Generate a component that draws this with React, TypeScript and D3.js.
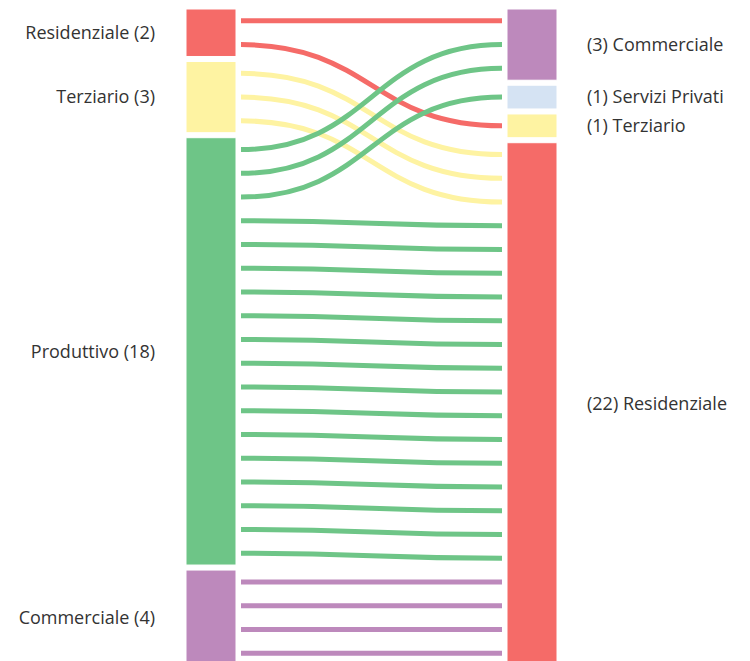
import React, { useEffect, useRef } from 'react';
import * as d3 from 'd3';

// left column (origin) and right column (destination) categories
const sourceNames = ['Residenziale', 'Terziario', 'Produttivo', 'Commerciale'];
const targetNames = ['Commerciale', 'Servizi Privati', 'Terziario', 'Residenziale'];

// flows: one line is drawn for each unit
const flowSource = ['Residenziale', 'Residenziale', 'Terziario', 'Produttivo', 'Produttivo', 'Produttivo', 'Commerciale'];
const flowTarget = ['Commerciale', 'Terziario', 'Residenziale', 'Commerciale', 'Servizi Privati', 'Residenziale', 'Residenziale'];
const flowCount = [1, 1, 3, 2, 1, 15, 4];

const colors: Record<string, string> = {
  Residenziale: '#f56b68',
  Terziario: '#fef3a2',
  Produttivo: '#6ec587',
  Commerciale: '#bd89bc',
  'Servizi Privati': '#d5e3f3',
};

type NodeBox = { name: string; count: number; y0: number; y1: number; next: number };

export default function App() {
  const svgRef = useRef<SVGSVGElement>(null);

  useEffect(() => {
    if (!svgRef.current) return;
    const width = 750;
    const height = 661;
    const top = 9;
    const bottom = 665; // chart runs a little past the frame
    const gap = 5;
    const nodeW = 50;
    const leftX = 186;
    const rightX = 507;

    const svg = d3.select(svgRef.current).attr('width', width).attr('height', height);
    svg.selectAll('*').remove();

    const total = d3.sum(flowCount);
    const unit = d3.scaleLinear().domain([0, total]).range([0, bottom - top - gap * 3]);

    const buildColumn = (names: string[], key: 'src' | 'tgt') => {
      const boxes: NodeBox[] = [];
      let acc = 0;
      names.forEach((name, i) => {
        const count = d3.sum(flowCount.filter((_, j) => (key === 'src' ? flowSource[j] : flowTarget[j]) === name));
        const y0 = top + unit(acc) + i * gap;
        const y1 = y0 + unit(count);
        boxes.push({ name, count, y0, y1, next: 0 });
        acc += count;
      });
      return boxes;
    };
    const left = buildColumn(sourceNames, 'src');
    const right = buildColumn(targetNames, 'tgt');
    const lookup = (col: NodeBox[], name: string) => col.find((n) => n.name === name)!;

    // expand flows into single unit lines; order by target on the left, by source on the right
    const lines: { s: string; t: string; ys: number; yt: number }[] = [];
    flowCount.forEach((c, j) => {
      for (let k = 0; k < c; k++) lines.push({ s: flowSource[j], t: flowTarget[j], ys: 0, yt: 0 });
    });
    const tIdx = (n: string) => targetNames.indexOf(n);
    const sIdx = (n: string) => sourceNames.indexOf(n);
    lines
      .slice()
      .sort((a, b) => sIdx(a.s) - sIdx(b.s) || tIdx(a.t) - tIdx(b.t))
      .forEach((l) => {
        const n = lookup(left, l.s);
        l.ys = n.y0 + unit(n.next + 0.5);
        n.next += 1;
      });
    lines
      .slice()
      .sort((a, b) => tIdx(a.t) - tIdx(b.t) || sIdx(a.s) - sIdx(b.s))
      .forEach((l) => {
        const n = lookup(right, l.t);
        l.yt = n.y0 + unit(n.next + 0.5);
        n.next += 1;
      });

    const link = d3.linkHorizontal<any, [number, number]>()
      .source((d: any) => d.source)
      .target((d: any) => d.target);

    svg.append('g')
      .selectAll('path')
      .data(lines)
      .join('path')
      .attr('d', (d) => link({ source: [leftX + nodeW + 5, d.ys], target: [rightX - 5, d.yt] }))
      .attr('fill', 'none')
      .attr('stroke', (d) => colors[d.s])
      .attr('stroke-width', 5);

    const drawNodes = (col: NodeBox[], x: number, side: 'l' | 'r') => {
      const g = svg.append('g');
      g.selectAll('rect')
        .data(col)
        .join('rect')
        .attr('x', x)
        .attr('y', (d) => d.y0)
        .attr('width', nodeW)
        .attr('height', (d) => d.y1 - d.y0)
        .attr('fill', (d) => colors[d.name])
        .attr('stroke', '#fff')
        .attr('stroke-width', 1);
      g.selectAll('text')
        .data(col)
        .join('text')
        .attr('x', side === 'l' ? 155 : 587)
        .attr('y', (d) => (d.y0 + Math.min(d.y1, 661)) / 2 + (d.y1 > 661 ? 2 : 0))
        .attr('dy', '0.35em')
        .attr('text-anchor', side === 'l' ? 'end' : 'start')
        .attr('fill', '#333')
        .style('font-family', 'Open Sans, sans-serif')
        .style('font-size', '18px')
        .text((d) => (side === 'l' ? `${d.name} (${d.count})` : `(${d.count}) ${d.name}`));
    };
    drawNodes(left, leftX, 'l');
    drawNodes(right, rightX, 'r');
  }, []);

  return (
    <div style={{ position: 'absolute', left: 0, top: 0, background: '#fff' }}>
      <svg ref={svgRef}></svg>
    </div>
  );
}
